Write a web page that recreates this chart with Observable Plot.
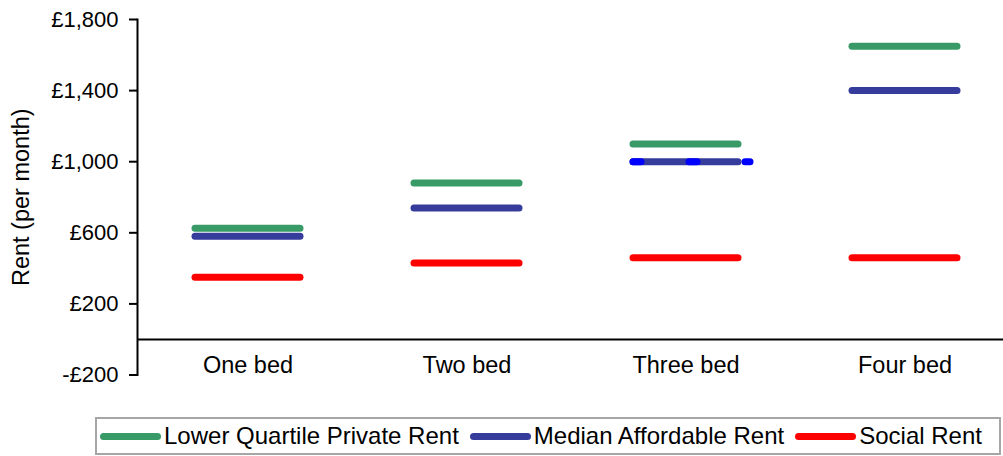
<!DOCTYPE html>
<html>
<head>
<meta charset="utf-8">
<script src="https://cdn.jsdelivr.net/npm/d3@7"></script>
<script src="https://cdn.jsdelivr.net/npm/@observablehq/plot@0.6"></script>
<style>
  html, body { margin: 0; padding: 0; background: #fff; }
  #chart svg { display: block; }
  .legend {
    box-sizing: border-box;
    margin: 7px 0 0 95px;
    width: 906px; height: 38px;
    border: 2px solid #a6a6a6;
    display: flex; align-items: center;
    padding-left: 3px;
    font-family: "Liberation Sans", Arial, sans-serif;
    font-size: 24px; color: #000; white-space: nowrap;
  }
  .legend .item { display: flex; align-items: center; margin-right: 11px; }
  .legend .sw { width: 61px; height: 7px; border-radius: 3.5px; margin-right: 3px; }
</style>
</head>
<body>
<div id="chart"></div>
<div id="legend" class="legend"></div>
<script>
// ---- data ----
const categories = ["One bed", "Two bed", "Three bed", "Four bed"];
const seriesNames = ["Lower Quartile Private Rent", "Median Affordable Rent", "Social Rent"];
const seriesColors = ["#389b67", "#363c9b", "#ff0000"];
const lowerQuartilePrivate = [625, 880, 1100, 1650];
const medianAffordable = [580, 740, 1000, 1400];
const socialRent = [350, 430, 460, 460];
const dashedCategories = ["Three bed"];
const dashedValues = [1000];
const yTicks = [-200, 200, 600, 1000, 1400, 1800];
const yTitle = "Rent (per month)";

const seriesValues = [lowerQuartilePrivate, medianAffordable, socialRent];
const rows = [];
seriesNames.forEach((s, si) => categories.forEach((c, ci) => rows.push({category: c, series: s, value: seriesValues[si][ci]})));
const dashedRows = dashedCategories.map((c, i) => ({category: c, value: dashedValues[i]}));

const fmt = d => (d < 0 ? "-" : "") + "£" + d3.format(",")(Math.abs(d));

const chart = Plot.plot({
  width: 1003, height: 410,
  marginLeft: 137, marginRight: -12, marginTop: 19, marginBottom: 35.5,
  style: {fontFamily: "'Liberation Sans', Arial, sans-serif", fontSize: "21px", color: "#000", background: "#fff"},
  x: {type: "band", domain: categories, paddingInner: 0.52, paddingOuter: 0.26, axis: null},
  y: {domain: [-200, 1800], axis: null},
  color: {domain: seriesNames, range: seriesColors},
  marks: [
    Plot.ruleY([0], {stroke: "#000", strokeWidth: 2}),
    Plot.frame({anchor: "left", stroke: "#000", strokeWidth: 2}),
    Plot.axisY({ticks: yTicks, tickFormat: fmt, tickSize: 8, tickPadding: 11, strokeWidth: 2, label: null, fontSize: 22}),
    Plot.axisX({anchor: "bottom", tickSize: 0, tickPadding: 0, dy: -19, fontSize: 23.5, label: null}),
    Plot.text([yTitle], {frameAnchor: "left", textAnchor: "middle", rotate: -90, dx: -116, fontSize: 23.5, fill: "#000"}),
    Plot.tickY(rows, {x: "category", y: "value", stroke: "series", strokeWidth: 7, strokeLinecap: "round"}),
    Plot.tickY(dashedRows, {x: "category", y: "value", stroke: "#0000ff", strokeWidth: 7, strokeLinecap: "round", strokeDasharray: "8,48", insetRight: -12})
  ]
});
document.getElementById("chart").append(chart);

const legend = document.getElementById("legend");
seriesNames.forEach((s, i) => {
  const item = document.createElement("div");
  item.className = "item";
  const sw = document.createElement("div");
  sw.className = "sw";
  sw.style.background = seriesColors[i];
  const t = document.createElement("span");
  t.textContent = s;
  item.append(sw, t);
  legend.append(item);
});
</script>
</body>
</html>
